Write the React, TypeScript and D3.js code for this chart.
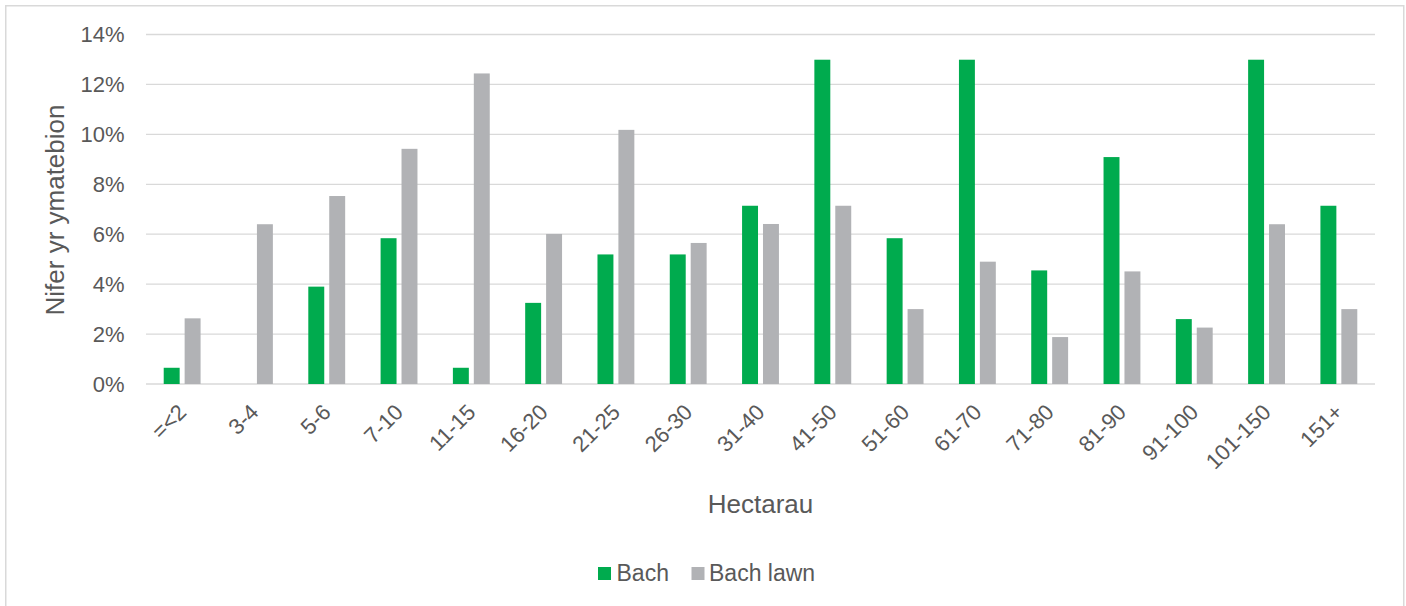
import React, { useEffect } from "react";
import * as d3 from "d3";

const categories = ["=<2", "3-4", "5-6", "7-10", "11-15", "16-20", "21-25", "26-30", "31-40", "41-50", "51-60", "61-70", "71-80", "81-90", "91-100", "101-150", "151+"];
const seriesNames = ["Bach", "Bach lawn"];
const bachValues = [0.65, 0, 3.9, 5.84, 0.65, 3.25, 5.19, 5.19, 7.14, 12.99, 5.84, 12.99, 4.55, 9.09, 2.6, 12.99, 7.14];
const bachLawnValues = [2.63, 6.4, 7.53, 9.42, 12.44, 6.01, 10.18, 5.65, 6.41, 7.14, 3.0, 4.9, 1.88, 4.51, 2.26, 6.4, 3.0];
const yTicks = [0, 2, 4, 6, 8, 10, 12, 14];
const colors = ["#00AB4E", "#B1B2B5"];

const W = 1406;
const H = 606;
const plot = { left: 146, right: 1375, top: 34.5, bottom: 384 };
const FONT = "'Liberation Sans', Arial, sans-serif";
const TEXT = "#595959";

export default function App() {
  useEffect(() => {
    document.body.style.margin = "0";
  }, []);

  const x0 = d3.scaleBand<string>().domain(categories).range([plot.left, plot.right]).paddingInner(0.49).paddingOuter(0.245);
  const x1 = d3.scaleBand<string>().domain(seriesNames).range([0, x0.bandwidth()]).paddingInner(0.238).paddingOuter(0);
  const y = d3.scaleLinear().domain([0, 14]).range([plot.bottom, plot.top]);
  const series = [bachValues, bachLawnValues];

  return (
    <svg width={W} height={H} style={{ display: "block", background: "#fff" }} fontFamily={FONT}>
      <rect x={5.75} y={5.75} width={1398} height={620} fill="#fff" stroke="#D9D9D9" strokeWidth={1.5} />
      {yTicks.map((t) => (
        <g key={t}>
          <line x1={plot.left} x2={plot.right} y1={y(t)} y2={y(t)} stroke="#D9D9D9" strokeWidth={1.3} />
          <text x={124.5} y={y(t)} dy="0.36em" textAnchor="end" fontSize={22} fill={TEXT}>{t + "%"}</text>
        </g>
      ))}
      {categories.map((c, i) => (
        <g key={c} transform={`translate(${x0(c)},0)`}>
          {series.map((vals, s) => (
            <rect key={s} x={x1(seriesNames[s])} width={x1.bandwidth()} y={y(vals[i])} height={y(0) - y(vals[i])} fill={colors[s]} />
          ))}
        </g>
      ))}
      {categories.map((c) => {
        const cx = (x0(c) as number) + x0.bandwidth() / 2 + 5.5;
        const cy = 413.5;
        return (
          <text key={c} x={cx} y={cy} transform={`rotate(-45 ${cx} ${cy})`} textAnchor="end" fontSize={22} fill={TEXT}>{c}</text>
        );
      })}
      <text x={(plot.left + plot.right) / 2} y={513} textAnchor="middle" fontSize={26} fill={TEXT}>Hectarau</text>
      <text transform={`translate(64,210) rotate(-90)`} textAnchor="middle" fontSize={26} fill={TEXT}>Nifer yr ymatebion</text>
      <g>
        <rect x={598} y={567} width={13} height={13} fill={colors[0]} />
        <text x={616.5} y={581} fontSize={23} fill={TEXT}>{seriesNames[0]}</text>
        <rect x={691.5} y={567} width={13} height={13} fill={colors[1]} />
        <text x={709} y={581} fontSize={23} fill={TEXT}>{seriesNames[1]}</text>
      </g>
    </svg>
  );
}
